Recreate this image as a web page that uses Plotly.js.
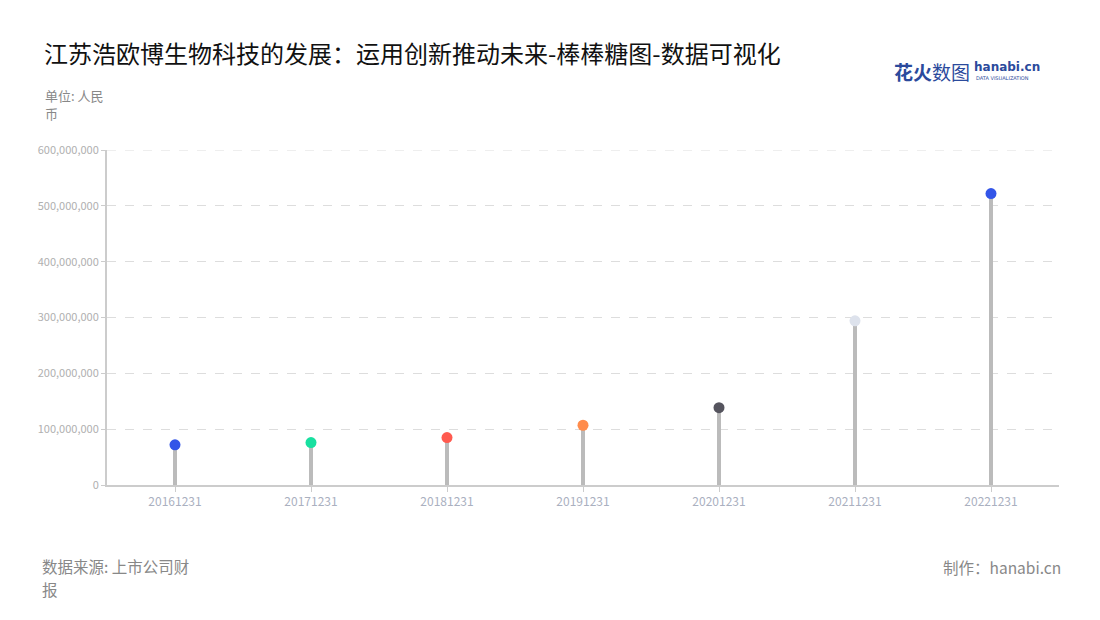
<!DOCTYPE html>
<html>
<head>
<meta charset="utf-8">
<script src="https://cdn.plot.ly/plotly-3.0.1.min.js"></script>
<style>html,body{margin:0;padding:0;background:#fff;}#chart{width:1100px;height:620px;}</style>
</head>
<body>
<div id="chart"></div>
<script>
const categories = ["20161231","20171231","20181231","20191231","20201231","20211231","20221231"];
const values = [72000000, 76000000, 85000000, 107000000, 138500000, 294000000, 522000000];
const dotColors = ["#3355e8","#18e0a0","#ff5a4f","#ff8c4c","#55545e","#dde2ec","#3355e8"];
const yTickVals = [0, 100000000, 200000000, 300000000, 400000000, 500000000, 600000000];
const yMax = 600000000;
const titleText = "江苏浩欧博生物科技的发展：运用创新推动未来-棒棒糖图-数据可视化";
const unitLines = ["单位: 人民", "币"];
const sourceLines = ["数据来源: 上市公司财", "报"];
const creditText = "制作：hanabi.cn";

const FONT = "'Noto Sans CJK SC', 'Noto Sans', sans-serif";

const stems = {
  type: "bar", x: categories, y: values, width: 0.03,
  marker: {color: "#bbbbbb", line: {width: 0}},
  hoverinfo: "skip", showlegend: false
};
const dots = {
  type: "scatter", mode: "markers", x: categories, y: values,
  marker: {color: dotColors, size: 11, line: {width: 0}},
  showlegend: false, cliponaxis: false
};

const PH = 335; // plot height px
function pyAbove(px) { return 1 + px / PH; }  // px above top of plot area
function pyBelow(px) { return -px / PH; }     // px below bottom of plot area

const layout = {
  width: 1100, height: 620,
  margin: {l: 107, r: 41, t: 150, b: 135},
  paper_bgcolor: "#ffffff", plot_bgcolor: "#ffffff",
  font: {family: FONT},
  showlegend: false,
  title: {text: titleText, x: 0.04, xanchor: "left", y: 0.912, yanchor: "middle",
          font: {size: 24, color: "#111111", family: FONT}},
  xaxis: {
    type: "category", range: [-0.5, 6.5],
    showline: true, linecolor: "#cccccc", linewidth: 2,
    ticks: "outside", ticklen: 5, tickcolor: "#cccccc",
    showgrid: false, zeroline: false,
    tickfont: {size: 12, color: "#aab0bf", family: FONT}
  },
  yaxis: {
    range: [0, yMax], tickvals: yTickVals,
    tickformat: ",d",
    showline: true, linecolor: "#cccccc", linewidth: 2,
    ticks: "outside", ticklen: 4, tickcolor: "#cccccc",
    showgrid: true, gridcolor: "#dddddd", griddash: "dash", gridwidth: 1,
    zeroline: false,
    tickfont: {size: 11, color: "#b0b0b0", family: FONT}
  },
  shapes: [
    {type: "line", xref: "paper", yref: "y", x0: 0, x1: 1, y0: yMax, y1: yMax,
     line: {color: "#dddddd", width: 1, dash: "dash"}, layer: "below"}
  ],
  bargap: 0,
  annotations: [
    {text: unitLines[0], xref: "paper", yref: "paper", x: -0.066, y: pyAbove(54), xanchor: "left", yanchor: "middle",
     showarrow: false, align: "left", borderpad: 0, font: {size: 13, color: "#888888", family: FONT}},
    {text: unitLines[1], xref: "paper", yref: "paper", x: -0.066, y: pyAbove(37), xanchor: "left", yanchor: "middle",
     showarrow: false, align: "left", borderpad: 0, font: {size: 13, color: "#888888", family: FONT}},
    {text: sourceLines[0], xref: "paper", yref: "paper", x: -0.069, y: pyBelow(81), xanchor: "left", yanchor: "middle",
     showarrow: false, align: "left", borderpad: 0, font: {size: 15.5, color: "#888888", family: FONT}},
    {text: sourceLines[1], xref: "paper", yref: "paper", x: -0.069, y: pyBelow(104), xanchor: "left", yanchor: "middle",
     showarrow: false, align: "left", borderpad: 0, font: {size: 15.5, color: "#888888", family: FONT}},
    {text: creditText, xref: "paper", yref: "paper", x: 1.003, y: pyBelow(82), xanchor: "right", yanchor: "middle",
     showarrow: false, align: "right", borderpad: 0, font: {size: 15.5, color: "#888888", family: FONT}},
    {text: "<b>花火</b>数图", xref: "paper", yref: "paper", x: 0.825, y: 1.235, xanchor: "left", yanchor: "middle",
     showarrow: false, font: {size: 19, color: "#2b4a9c", family: FONT}},
    {text: "<b>hanabi.cn</b>", xref: "paper", yref: "paper", x: 0.909, y: 1.247, xanchor: "left", yanchor: "middle",
     showarrow: false, font: {size: 12, color: "#2b4a9c", family: "'DejaVu Sans', sans-serif"}},
    {text: "DATA VISUALIZATION", xref: "paper", yref: "paper", x: 0.911, y: 1.214, xanchor: "left", yanchor: "middle",
     showarrow: false, font: {size: 5, color: "#2b4a9c", family: "'DejaVu Sans', sans-serif"}}
  ]
};

Plotly.newPlot("chart", [stems, dots], layout, {displayModeBar: false, staticPlot: true});
</script>
</body>
</html>
